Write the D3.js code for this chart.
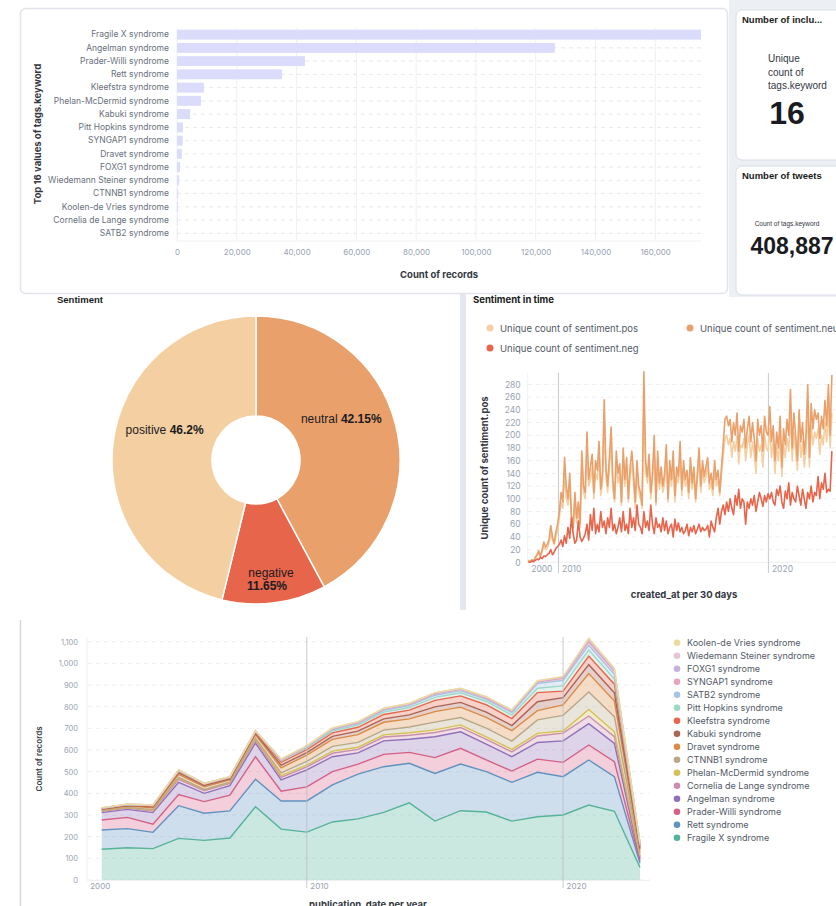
<!DOCTYPE html>
<meta charset="utf-8">
<style>
body { margin: 0; background: #fff; }
svg { display: block; font-family: Inter, "Noto Sans", sans-serif; }
.classic { font-family: "Liberation Sans", Arial, sans-serif; }
</style>
<body>
<script src="https://cdn.jsdelivr.net/npm/d3@7"></script>
<script>
'use strict';

// ---- top 16 tags
const tagNames = ["Fragile X syndrome", "Angelman syndrome", "Prader-Willi syndrome", "Rett syndrome",
  "Kleefstra syndrome", "Phelan-McDermid syndrome", "Kabuki syndrome", "Pitt Hopkins syndrome",
  "SYNGAP1 syndrome", "Dravet syndrome", "FOXG1 syndrome", "Wiedemann Steiner syndrome",
  "CTNNB1 syndrome", "Koolen-de Vries syndrome", "Cornelia de Lange syndrome", "SATB2 syndrome"];
const tagCounts = [175300, 126400, 42800, 35100, 9000, 8000, 4400, 2000,
  1900, 1600, 1000, 700, 400, 300, 200, 100];

const uniqueTags = 16;
const tweetCount = 408887;

// ---- sentiment split (clockwise from 12 o'clock)
const sentimentNames = ["neutral", "negative", "positive"];
const sentimentShares = [42.15, 11.65, 46.2];
const sentimentColors = ["#e9a06b", "#e6654b", "#f4cfa2"];

// ---- sentiment per 30 days, first bucket 2008-07-26
const firstBucket = new Date(2008, 6, 26);
const posCounts = [2,1,3,2,6,10,14,9,16,25,20,22,30,45,35,28,40,50,
  70,95,85,140,100,90,120,65,50,95,62,80,55,
  150,110,100,180,120,130,150,100,140,130,165,105,
  125,215,135,110,150,185,115,95,155,125,140,90,
  160,120,150,95,135,155,125,85,145,110,100,85,
  250,140,125,150,100,130,175,90,155,115,135,110,
  125,165,95,145,120,155,95,135,125,170,105,145,
  120,130,100,150,115,135,95,130,160,110,145,125,
  135,150,115,125,105,145,120,130,105,140,165,195,
  200,185,195,165,190,175,200,155,185,180,195,160,
  185,200,165,190,170,140,195,175,185,150,200,180,
  175,210,165,190,140,180,160,200,135,185,165,195,
  175,235,160,205,175,145,210,165,190,150,175,240,
  150,215,185,205,195,210,170,200,185,220,190,240,180,235];
const neuCounts = [3,1,4,2,8,12,18,10,20,32,24,28,36,58,40,30,48,60,
  80,110,95,165,120,100,140,75,55,110,70,95,60,
  175,120,110,205,130,150,170,110,160,145,190,115,
  140,256,150,120,165,213,130,100,175,140,155,95,
  180,130,165,100,150,175,140,95,160,120,110,90,
  300,160,135,170,110,140,200,95,175,125,150,120,
  140,185,100,160,130,175,105,150,135,190,115,160,
  130,145,110,165,125,150,100,140,180,120,160,135,
  150,165,125,140,115,160,130,145,110,150,185,225,
  230,215,225,190,220,200,235,175,215,205,225,180,
  210,230,190,220,195,160,225,200,215,175,230,205,
  200,245,190,215,160,205,180,230,150,210,185,225,
  200,272,180,235,200,160,240,190,220,170,200,280,
  165,250,210,240,225,235,195,230,210,255,215,280,200,295];
const negCounts = [0,0,2,1,3,5,4,8,6,10,9,12,14,20,12,16,22,25,
  28,35,25,42,30,55,38,70,45,30,35,65,40,
  33,38,45,60,35,75,50,85,45,60,48,80,
  55,65,45,70,55,85,50,60,45,55,70,48,
  80,50,60,45,85,55,70,50,90,60,55,45,
  80,55,65,50,90,60,45,70,55,60,48,70,
  50,65,45,55,60,40,68,50,62,48,55,45,
  50,60,42,55,48,58,45,52,60,48,55,50,
  52,58,40,65,55,48,70,85,60,80,90,75,
  95,80,100,85,75,105,90,115,85,100,95,60,
  95,85,100,90,105,80,95,110,100,88,105,95,
  108,100,110,95,90,115,105,120,95,85,112,100,
  125,90,110,100,95,120,105,90,115,100,85,110,
  100,120,95,110,105,135,100,125,115,140,110,115,112,175];
const lineNames = ["Unique count of sentiment.pos", "Unique count of sentiment.neu", "Unique count of sentiment.neg"];
const lineColors = ["#f4cfa2", "#e9a06b", "#e6654b"];

// ---- publications per year, stacked bottom -> top
const pubYears = [2002,2003,2004,2005,2006,2007,2008,2009,2010,2011,2012,
  2013,2014,2015,2016,2017,2018,2019,2020,2021,2022,2023];
const fragileX  = [142,149,145,192,183,194,338,235,221,268,282,312,356,272,320,314,272,292,300,346,317,58];
const rett      = [89,88,75,151,125,125,127,130,144,171,207,211,183,220,215,186,179,205,177,208,160,20];
const praderW   = [46,52,38,51,54,73,104,45,65,61,46,57,50,73,73,54,52,61,66,69,69,10];
const angelman  = [34,37,53,57,38,44,63,52,78,69,52,62,61,96,76,73,66,77,99,99,84,10];
const cornelia  = [6,6,8,14,12,10,12,12,14,16,16,18,18,20,20,22,22,30,36,35,32,10];
const phelan    = [2,2,4,6,4,4,6,8,8,10,10,10,12,12,12,12,12,12,10,30,22,4];
const ctnnb1    = [1,1,2,3,2,2,4,12,18,22,22,22,26,36,34,40,38,62,72,81,70,12];
const dravet    = [5,6,8,14,12,10,16,24,28,32,36,36,38,48,48,50,48,43,48,85,72,14];
const kabuki    = [3,3,5,8,6,5,7,12,12,14,16,16,18,22,22,24,24,41,34,41,38,8];
const kleefstra = [2,3,4,6,5,5,6,14,14,16,18,20,22,30,30,34,32,42,30,40,40,10];
const pitt      = [1,1,2,2,2,2,3,6,7,9,10,11,12,14,14,15,16,20,24,27,24,5];
const satb2     = [0,0,0,1,1,1,1,3,4,6,7,8,9,10,10,10,12,22,26,23,22,5];
const syngap1   = [1,1,1,1,1,1,1,2,3,4,4,5,6,6,6,6,6,7,9,15,13,3];
const foxg1     = [1,1,1,1,1,1,1,2,2,2,3,3,3,4,3,4,4,3,5,8,7,2];
const wiedemann = [0,0,0,1,0,0,0,1,1,1,1,1,1,1,1,1,1,2,2,5,4,1];
const koolen    = [1,0,0,0,0,0,0,0,0,1,1,1,1,1,1,1,1,1,1,4,3,1];

const pubNames = ["Fragile X syndrome", "Rett syndrome", "Prader-Willi syndrome", "Angelman syndrome",
  "Cornelia de Lange syndrome", "Phelan-McDermid syndrome", "CTNNB1 syndrome", "Dravet syndrome",
  "Kabuki syndrome", "Kleefstra syndrome", "Pitt Hopkins syndrome", "SATB2 syndrome",
  "SYNGAP1 syndrome", "FOXG1 syndrome", "Wiedemann Steiner syndrome", "Koolen-de Vries syndrome"];
const pubValues = [fragileX, rett, praderW, angelman, cornelia, phelan, ctnnb1, dravet,
  kabuki, kleefstra, pitt, satb2, syngap1, foxg1, wiedemann, koolen];
const pubColors = ["#54b399", "#6092c0", "#d36086", "#9170b8", "#ca8eae", "#d6bf57", "#b9a888", "#da8b45",
  "#aa6556", "#e7664c", "#9fd8c6", "#a6c5e3", "#e9a3bb", "#c4b2de", "#e6c5d7", "#ebdc9e"];

const tickGrey = "#98a2b3",
      labelGrey = "#69707d",
      ink = "#343741",
      gridGrey = "#eef0f3";

const svg = d3.select("body").append("svg")
    .attr("width", 836)
    .attr("height", 906);

function styleAxis(g, size) {
  g.attr("font-family", null).attr("font-size", size);
  g.select(".domain").remove();
  g.selectAll("text").attr("fill", tickGrey);
}

// ================= top row frames
svg.append("rect").attr("x", 729).attr("y", 0).attr("width", 107).attr("height", 297).attr("fill", "#eceff3");
svg.append("rect").attr("x", 20.5).attr("y", 8.5).attr("width", 707).attr("height", 285).attr("rx", 5)
    .attr("fill", "#fff").attr("stroke", "#e1e4ea").attr("stroke-width", 1.5);

// ================= bar chart
const bx = d3.scaleLinear().domain([0, d3.max(tagCounts)]).range([177, 701]);
const by = d3.scaleBand().domain(tagNames).range([28, 240]).paddingInner(0.25).paddingOuter(0.125);
const bar = svg.append("g");

bar.append("g").selectAll("line").data(bx.ticks(10)).join("line")
    .attr("x1", d => bx(d)).attr("x2", d => bx(d))
    .attr("y1", 28).attr("y2", 241)
    .attr("stroke", gridGrey);
bar.append("g").selectAll("line").data(tagNames).join("line")
    .attr("x1", 177).attr("x2", 701)
    .attr("y1", d => by(d) + by.bandwidth() / 2).attr("y2", d => by(d) + by.bandwidth() / 2)
    .attr("stroke", "#e6e9ee").attr("stroke-dasharray", "4,4");
bar.append("line").attr("x1", 177).attr("x2", 701).attr("y1", 241).attr("y2", 241).attr("stroke", gridGrey);
bar.append("g").selectAll("rect").data(tagNames).join("rect")
    .attr("x", bx(0))
    .attr("y", d => by(d))
    .attr("width", (d, i) => bx(tagCounts[i]) - bx(0))
    .attr("height", by.bandwidth())
    .attr("fill", "#dbdbfb");

bar.append("g").attr("transform", "translate(0,249)")
    .call(d3.axisBottom(bx).ticks(10).tickSize(0).tickPadding(0).tickFormat(d3.format(",")))
    .call(g => styleAxis(g, 8));
bar.append("g").attr("transform", "translate(177,0)")
    .call(d3.axisLeft(by).tickSize(0).tickPadding(8))
    .call(g => styleAxis(g, 8.5))
    .call(g => g.selectAll("text").attr("fill", labelGrey));

bar.append("text").attr("x", 439).attr("y", 278).attr("text-anchor", "middle")
    .attr("font-size", 9.5).attr("font-weight", 700).attr("fill", ink).text("Count of records");
bar.append("text").attr("transform", "translate(41,134) rotate(-90)").attr("text-anchor", "middle")
    .attr("font-size", 9.5).attr("font-weight", 700).attr("fill", ink).text("Top 16 values of tags.keyword");

// ================= metric cards
const cards = svg.append("g").attr("class", "classic");
cards.append("rect").attr("x", 736).attr("y", 10).attr("width", 110).attr("height", 150).attr("rx", 6)
    .attr("fill", "#fff").attr("stroke", "#d8dde5");
cards.append("rect").attr("x", 736).attr("y", 166).attr("width", 110).attr("height", 129).attr("rx", 6)
    .attr("fill", "#fff").attr("stroke", "#d8dde5");
cards.append("text").attr("x", 742).attr("y", 23).attr("font-size", 9.5).attr("font-weight", 700)
    .attr("fill", "#1a1c21").text("Number of inclu...");
cards.append("text").attr("x", 742).attr("y", 179).attr("font-size", 9.5).attr("font-weight", 700)
    .attr("fill", "#1a1c21").text("Number of tweets");
["Unique", "count of", "tags.keyword"].forEach((t, i) =>
  cards.append("text").attr("x", 768).attr("y", 62 + i * 13.5).attr("font-size", 10)
      .attr("fill", ink).text(t));
cards.append("text").attr("x", 787).attr("y", 124).attr("text-anchor", "middle")
    .attr("font-size", 32).attr("font-weight", 700).attr("fill", "#1a1c21").text(uniqueTags);
cards.append("text").attr("x", 787).attr("y", 226).attr("text-anchor", "middle")
    .attr("font-size", 6.5).attr("fill", ink).text("Count of tags.keyword");
cards.append("text").attr("x", 792).attr("y", 254).attr("text-anchor", "middle")
    .attr("font-size", 23).attr("font-weight", 700).attr("fill", "#1a1c21").text(d3.format(",")(tweetCount));

// ================= pie
const pieG = svg.append("g").attr("class", "classic");
pieG.append("text").attr("x", 57).attr("y", 303).attr("font-size", 9.5).attr("font-weight", 700)
    .attr("fill", "#1a1c21").text("Sentiment");
const slices = d3.pie().sort(null)(sentimentShares);
const arc = d3.arc().innerRadius(44).outerRadius(144);
const pc = pieG.append("g").attr("transform", "translate(256,460)");
pc.selectAll("path").data(slices).join("path")
    .attr("d", arc)
    .attr("fill", (d, i) => sentimentColors[i])
    .attr("stroke", "#fff").attr("stroke-width", 1.5);
slices.forEach((s, i) => {
  const narrow = s.endAngle - s.startAngle < 1;
  const r = narrow ? 118 : 90;
  const c = d3.arc().innerRadius(r).outerRadius(r).centroid(s);
  const t = pc.append("text").attr("text-anchor", "middle").attr("font-size", 12).attr("fill", "#1a1c21");
  if (narrow) {
    t.attr("x", c[0]).attr("y", c[1]);
    t.append("tspan").attr("x", c[0]).text(sentimentNames[i]);
    t.append("tspan").attr("x", c[0] - 4).attr("dy", 13).attr("font-weight", 700).text(sentimentShares[i] + "%");
  } else {
    t.attr("x", c[0] - 2).attr("y", c[1] - 15);
    t.append("tspan").text(sentimentNames[i] + " ");
    t.append("tspan").attr("font-weight", 700).text(sentimentShares[i] + "%");
  }
});

// ================= sentiment in time
svg.append("rect").attr("x", 460).attr("y", 294).attr("width", 6).attr("height", 316).attr("fill", "#e4e7ec");
const lg = svg.append("g");
lg.append("text").attr("x", 473).attr("y", 303).attr("font-size", 9.5).attr("font-weight", 700)
    .attr("fill", "#1a1c21").text("Sentiment in time");

const dates = posCounts.map((d, i) => d3.timeDay.offset(firstBucket, 30 * i));
const lx = d3.scaleTime().domain([new Date(2008, 6, 15), new Date(2023, 4, 1)]).range([527.7, 838.3]);
const ly = d3.scaleLinear().domain([0, 298]).range([562.3, 373]);
const yTicks = d3.range(0, 281, 20);

lg.append("g").selectAll("line").data(yTicks).join("line")
    .attr("x1", 527.7).attr("x2", 836).attr("y1", d => ly(d)).attr("y2", d => ly(d))
    .attr("stroke", "#eceef2").attr("stroke-dasharray", "4,4");
lg.append("line").attr("x1", 527.7).attr("x2", 527.7).attr("y1", 373).attr("y2", 562.3).attr("stroke", gridGrey);
lg.append("line").attr("x1", 527.7).attr("x2", 836).attr("y1", 562.3).attr("y2", 562.3).attr("stroke", gridGrey);
const lDecades = [new Date(2010, 0, 1), new Date(2020, 0, 1)];
lg.append("g").selectAll("line").data(lDecades).join("line")
    .attr("x1", d => lx(d)).attr("x2", d => lx(d)).attr("y1", 373).attr("y2", 573)
    .attr("stroke", "#c5cad2");
lg.append("g").attr("transform", "translate(527.7,0)")
    .call(d3.axisLeft(ly).tickValues(yTicks).tickSize(0).tickPadding(7))
    .call(g => styleAxis(g, 8.5));
const decadeFmt = d => String(Math.floor(d.getFullYear() / 10) * 10);
lg.append("g").attr("transform", "translate(0,566)")
    .call(d3.axisBottom(lx).tickValues([lx.domain()[0]].concat(lDecades)).tickSize(0).tickPadding(0).tickFormat(decadeFmt))
    .call(g => styleAxis(g, 8.5))
    .call(g => g.selectAll("text").attr("text-anchor", "start").attr("dx", 3));

[posCounts, neuCounts, negCounts].forEach((series, k) => {
  lg.append("path")
      .attr("d", d3.line().x((d, i) => lx(dates[i])).y(d => ly(d))(series))
      .attr("fill", "none").attr("stroke", lineColors[k]).attr("stroke-width", 1.6)
      .attr("stroke-linejoin", "round");
});

lineNames.forEach((n, k) => {
  const lxPos = k === 1 ? 690 : 490, lyPos = k === 2 ? 348 : 328;
  lg.append("circle").attr("cx", lxPos).attr("cy", lyPos).attr("r", 3.5).attr("fill", lineColors[k]);
  lg.append("text").attr("x", lxPos + 10).attr("y", lyPos + 3.5).attr("font-size", 9.5)
      .attr("fill", "#535966").text(n);
});
lg.append("text").attr("transform", "translate(488,468) rotate(-90)").attr("text-anchor", "middle")
    .attr("font-size", 9.5).attr("font-weight", 700).attr("fill", ink).text("Unique count of sentiment.pos");
lg.append("text").attr("x", 684).attr("y", 598).attr("text-anchor", "middle")
    .attr("font-size", 9.5).attr("font-weight", 700).attr("fill", ink).text("created_at per 30 days");

// ================= publications stacked area
svg.append("line").attr("x1", 20.5).attr("x2", 20.5).attr("y1", 620).attr("y2", 906).attr("stroke", "#d3d8df").attr("stroke-width", 1.5);
const ag = svg.append("g");
const pubRows = pubYears.map((y, i) => {
  const row = {date: new Date(y, 0, 1)};
  pubNames.forEach((n, k) => row[n] = pubValues[k][i]);
  return row;
});
const ax = d3.scaleTime().domain([new Date(2001, 5, 1), new Date(2023, 4, 15)]).range([86.7, 649.4]);
const ay = d3.scaleLinear().domain([0, 1130]).range([880, 635.2]);
const aTicks = d3.range(0, 1101, 100);

ag.append("g").selectAll("line").data(aTicks).join("line")
    .attr("x1", 88).attr("x2", 650).attr("y1", d => ay(d)).attr("y2", d => ay(d))
    .attr("stroke", "#eceef2").attr("stroke-dasharray", "4,4");
ag.append("line").attr("x1", 87).attr("x2", 87).attr("y1", 637).attr("y2", 880).attr("stroke", gridGrey);
ag.append("line").attr("x1", 87).attr("x2", 650).attr("y1", 880.5).attr("y2", 880.5).attr("stroke", gridGrey);
const aDecades = [new Date(2010, 0, 1), new Date(2020, 0, 1)];

const layers = d3.stack().keys(pubNames)(pubRows);
const area = d3.area().x(d => ax(d.data.date)).y0(d => ay(d[0])).y1(d => ay(d[1]));
const topLine = d3.line().x(d => ax(d.data.date)).y(d => ay(d[1]));
ag.append("g").selectAll("path").data(layers).join("path")
    .attr("d", area).attr("fill", (d, i) => pubColors[i]).attr("fill-opacity", 0.3);
ag.append("g").selectAll("path").data(layers).join("path")
    .attr("d", topLine).attr("fill", "none").attr("stroke", (d, i) => pubColors[i]).attr("stroke-width", 1.4);

ag.append("g").selectAll("line").data(aDecades).join("line")
    .attr("x1", d => ax(d)).attr("x2", d => ax(d)).attr("y1", 637).attr("y2", 888)
    .attr("stroke", "#b9bec6").attr("stroke-opacity", 0.8);
ag.append("g").attr("transform", "translate(87,0)")
    .call(d3.axisLeft(ay).tickValues(aTicks).tickSize(0).tickPadding(9).tickFormat(d3.format(",")))
    .call(g => styleAxis(g, 7.5));
ag.append("g").attr("transform", "translate(0,883)")
    .call(d3.axisBottom(ax).tickValues([ax.domain()[0]].concat(aDecades)).tickSize(0).tickPadding(0).tickFormat(decadeFmt))
    .call(g => styleAxis(g, 8))
    .call(g => g.selectAll("text").attr("text-anchor", "start").attr("dx", 3));

ag.append("text").attr("transform", "translate(42,759) rotate(-90)").attr("text-anchor", "middle")
    .attr("font-size", 8).attr("font-weight", 600).attr("fill", ink).text("Count of records");
ag.append("text").attr("x", 368).attr("y", 908).attr("text-anchor", "middle")
    .attr("font-size", 9.5).attr("font-weight", 700).attr("fill", ink).text("publication_date per year");

const legend = ag.append("g").selectAll("g").data(pubNames.slice().reverse()).join("g")
    .attr("transform", (d, i) => "translate(677," + (642.7 + i * 13) + ")");
legend.append("circle").attr("r", 3.3).attr("fill", d => pubColors[pubNames.indexOf(d)]);
legend.append("text").attr("x", 10).attr("y", 3.2).attr("font-size", 9).attr("fill", "#535966").text(d => d);
</script>
